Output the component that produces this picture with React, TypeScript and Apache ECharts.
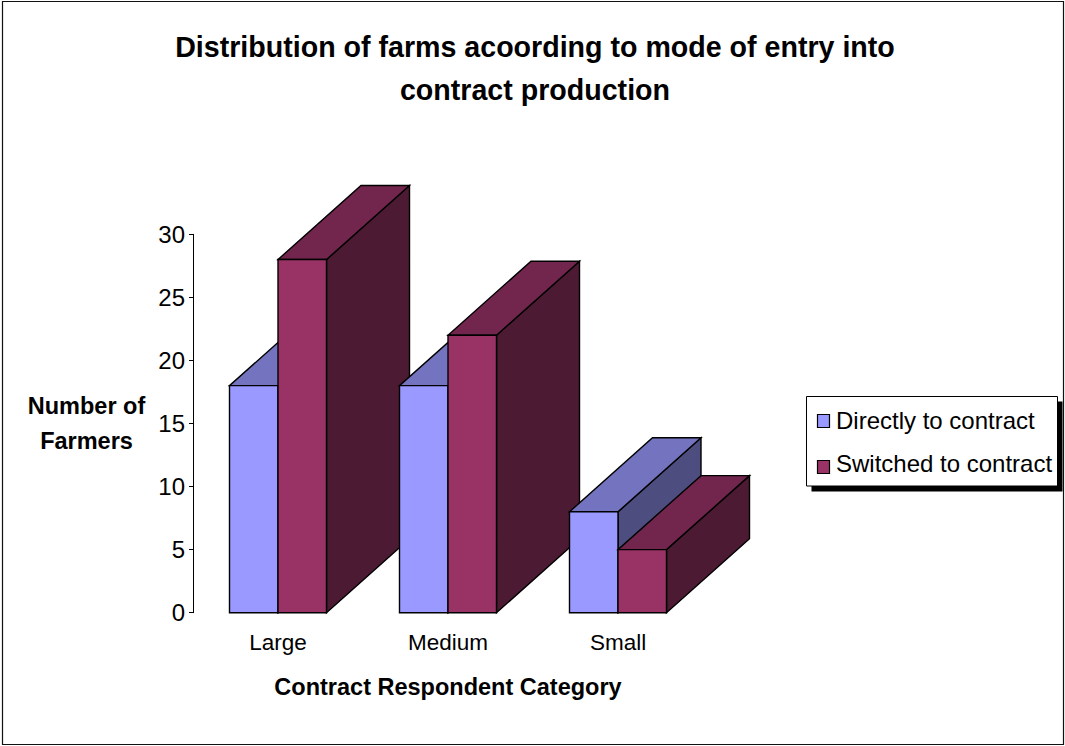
import React, { useEffect, useRef } from "react";
import * as echarts from "echarts";

// Chart data
const categories = ["Large", "Medium", "Small"];
const seriesNames = ["Directly to contract", "Switched to contract"];
const directlyToContract = [18, 18, 8];
const switchedToContract = [28, 22, 5];
const yMin = 0;
const yMax = 30;
const yStep = 5;

// Face colours for the pseudo-3D columns: front, top, side
const faceColors = [
  { front: "#9999FF", top: "#7373BF", side: "#4D4D80" },
  { front: "#993366", top: "#73264D", side: "#4D1A33" },
];

const FONT = '"Liberation Sans", Arial, sans-serif';
const BAR_FRACTION = 48.5 / 170; // width of one column relative to a category band
const DEPTH_X = 83; // oblique depth of each column
const DEPTH_Y = 74;

function makeRenderItem(seriesPos: number) {
  const c = faceColors[seriesPos];
  return (params: any, api: any) => {
    const ci = api.value(0);
    const v = api.value(1);
    const topPt = api.coord([ci, v]);
    const basePt = api.coord([ci, 0]);
    const band = api.size([1, 0])[0];
    const w = band * BAR_FRACTION;
    const x0 = topPt[0] - w + seriesPos * w;
    const x1 = x0 + w;
    const yT = topPt[1];
    const yB = basePt[1];
    const z = ci * 10 + seriesPos * 4;
    const stroke = { stroke: "#000", lineWidth: 1.4, lineJoin: "miter" };
    return {
      type: "group",
      children: [
        {
          type: "polygon",
          z2: z + 1,
          shape: {
            points: [
              [x1, yT],
              [x1 + DEPTH_X, yT - DEPTH_Y],
              [x1 + DEPTH_X, yB - DEPTH_Y],
              [x1, yB],
            ],
          },
          style: { fill: c.side, ...stroke },
        },
        {
          type: "polygon",
          z2: z + 2,
          shape: {
            points: [
              [x0, yT],
              [x1, yT],
              [x1 + DEPTH_X, yT - DEPTH_Y],
              [x0 + DEPTH_X, yT - DEPTH_Y],
            ],
          },
          style: { fill: c.top, ...stroke },
        },
        {
          type: "rect",
          z2: z + 3,
          shape: { x: x0, y: yT, width: w, height: yB - yT },
          style: { fill: c.front, ...stroke },
        },
      ],
    };
  };
}

export default function App() {
  const ref = useRef<HTMLDivElement>(null);

  useEffect(() => {
    if (!ref.current) return;
    const chart = echarts.init(ref.current, undefined, { renderer: "svg" });

    const seriesData = [directlyToContract, switchedToContract];

    chart.setOption({
      animation: false,
      backgroundColor: "#ffffff",
      textStyle: { fontFamily: FONT },
      grid: { left: 193, top: 234.3, width: 510, height: 378.4, containLabel: false },
      xAxis: {
        type: "category",
        data: categories,
        boundaryGap: true,
        axisLine: { show: false },
        axisTick: { show: false },
        splitLine: { show: false },
        axisLabel: { color: "#000", fontSize: 22.5, fontFamily: FONT, margin: 18 },
        name: "Contract Respondent Category",
        nameLocation: "middle",
        nameGap: 62,
        nameTextStyle: { color: "#000", fontSize: 23.5, fontWeight: "bold", fontFamily: FONT },
      },
      yAxis: {
        type: "value",
        min: yMin,
        max: yMax,
        interval: yStep,
        axisLine: { show: true, lineStyle: { color: "#000", width: 1 } },
        axisTick: { show: true, length: 4, lineStyle: { color: "#000" } },
        splitLine: { show: false },
        axisLabel: { color: "#000", fontSize: 24, fontFamily: FONT, margin: 8 },
        name: "Number of\nFarmers",
        nameLocation: "middle",
        nameRotate: 0,
        nameGap: 106.5,
        nameTextStyle: {
          color: "#000",
          fontSize: 23.5,
          fontWeight: "bold",
          fontFamily: FONT,
          align: "center",
          verticalAlign: "middle",
          lineHeight: 35,
        },
      },
      series: seriesNames.map((name, s) => ({
        type: "custom",
        name,
        clip: false,
        renderItem: makeRenderItem(s),
        encode: { x: 0, y: 1 },
        data: seriesData[s].map((v, i) => [i, v]),
      })),
      graphic: [
        // outer chart border
        {
          type: "rect",
          silent: true,
          shape: { x: 2.5, y: 1.5, width: 1061, height: 743 },
          style: { fill: "none", stroke: "#111", lineWidth: 1.2 },
        },
        // title
        {
          type: "text",
          x: 535,
          y: 47,
          style: {
            text: "Distribution of farms acoording to mode of entry into",
            font: `bold 28.6px ${FONT}`,
            fill: "#000",
            textAlign: "center",
            textVerticalAlign: "middle",
          },
        },
        {
          type: "text",
          x: 535,
          y: 90,
          style: {
            text: "contract production",
            font: `bold 28.6px ${FONT}`,
            fill: "#000",
            textAlign: "center",
            textVerticalAlign: "middle",
          },
        },
        // legend
        {
          type: "rect",
          shape: { x: 811.5, y: 401.5, width: 251, height: 90 },
          style: { fill: "#000" },
        },
        {
          type: "rect",
          shape: { x: 806.5, y: 396.5, width: 251, height: 89.5 },
          style: { fill: "#fff", stroke: "#000", lineWidth: 1 },
        },
        ...seriesNames.flatMap((name, s) => [
          {
            type: "rect",
            shape: { x: 817.5, y: 414.5 + s * 46, width: 12, height: 13 },
            style: { fill: faceColors[s].front, stroke: "#000", lineWidth: 1.2 },
          },
          {
            type: "text",
            x: 836,
            y: 420 + s * 43,
            style: {
              text: name,
              font: `24px ${FONT}`,
              fill: "#000",
              textAlign: "left",
              textVerticalAlign: "middle",
            },
          },
        ]),
      ],
    });

    return () => chart.dispose();
  }, []);

  return (
    <div
      ref={ref}
      style={{ position: "fixed", left: 0, top: 0, width: 1065, height: 746 }}
    />
  );
}
